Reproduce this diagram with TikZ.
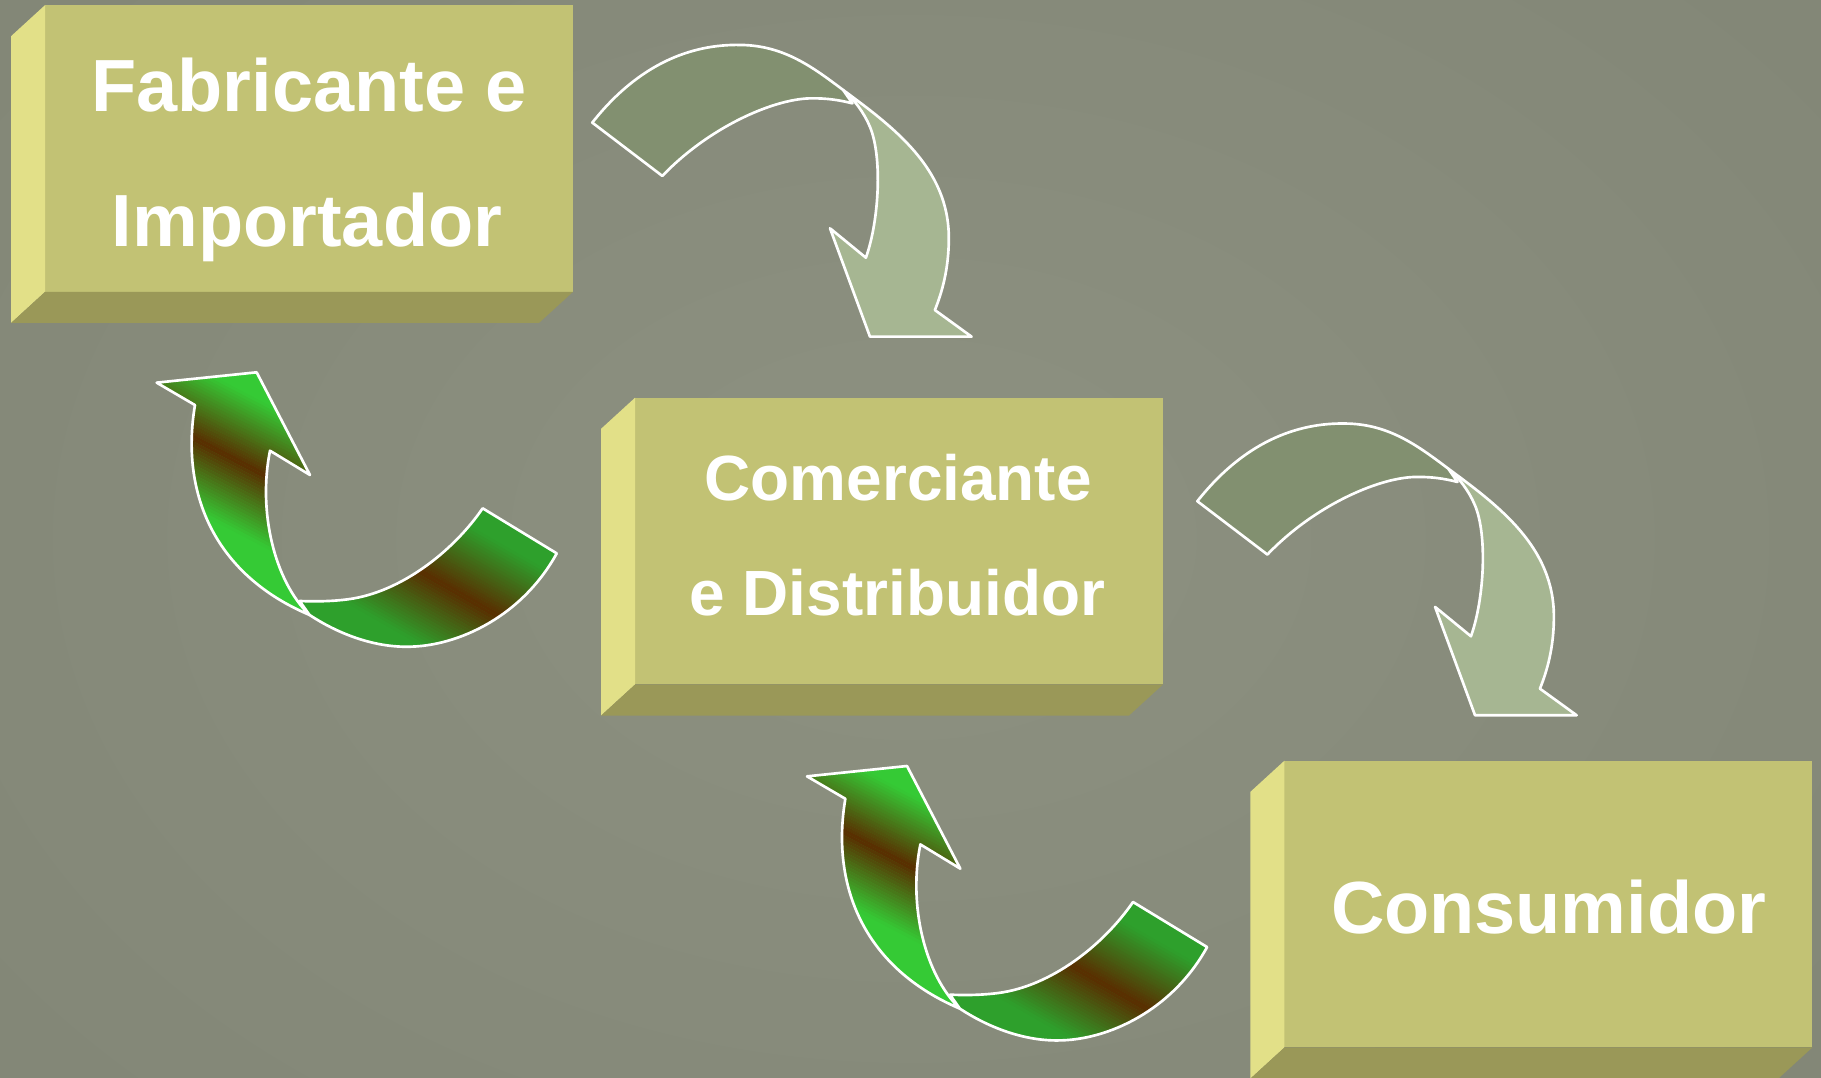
\documentclass[tikz,border=0pt]{standalone}
\usepackage{fontspec}
\setmainfont{Liberation Sans}
\usetikzlibrary{calc}
\definecolor{bg}{HTML}{8A8E7E}
\definecolor{bgIn}{HTML}{8D9181}
\definecolor{bgOut}{HTML}{828676}
\definecolor{face}{HTML}{C2C274}
\definecolor{bevL}{HTML}{E2E088}
\definecolor{bevB}{HTML}{9A9858}
\definecolor{grDark}{HTML}{829070}
\definecolor{grLight}{HTML}{A6B692}
\definecolor{lime}{HTML}{35CA35}
\definecolor{dgreen}{HTML}{2EA02C}
\definecolor{brn}{HTML}{5A2D00}

\newcommand\GAdark{(510,105.6) .. controls (550,55) and (595,38) .. (637.2,38.7) .. controls (675,39) and (700,58) .. (726,77.5) -- (734,89) .. controls (722,86) and (712,84.5) .. (697.4,84.7) .. controls (665,85.5) and (610,110) .. (570.3,151.5) -- cycle}
\newcommand\GAlight{(726,77.5) .. controls (770,110) and (817,145) .. (817,205) .. controls (817,232) and (811,252) .. (805,267) -- (836.6,289.9) -- (749.1,289.9) -- (714.7,196.6) -- (745.6,221.9) .. controls (757,190) and (760,135) .. (749,109) .. controls (744,97) and (735,85) .. (726,77.5) -- cycle}
\newcommand\GRup{(167.9,348.8) -- (134.9,329.5) -- (221,320.6) -- (266.9,409) -- (232.5,388.1) .. controls (222,440) and (236,500) .. (266.5,529.5) .. controls (185,495) and (155,425) .. (167.9,348.8) -- cycle}
\newcommand\GRlow{(266.5,529.5) .. controls (290,545) and (320,557) .. (350.2,556.9) .. controls (395,557) and (450,530) .. (479.4,476.5) -- (415.6,437.7) .. controls (390,475) and (345,510) .. (300,516) .. controls (285,518) and (270,518) .. (258,517.5) -- cycle}

\newcommand\gradstrips[3]{%
  \begin{scope}[shift={#1}, rotate=#2]
    \foreach \s in {-55,-52.5,...,52.5}{
      \pgfmathsetmacro\p{100*(1-abs(\s+1.25)/55)}
      \fill[brn!\p!#3] (-260,\s) rectangle (260,\s+2.7);
    }
  \end{scope}}

\newcommand\bevels[1]{%
  \fill[bevL] (#1.north west) -- (#1.south west) -- ($(#1.south west)+(-29.3,26.8)$) -- ($(#1.north west)+(-29.3,26.8)$) -- cycle;
  \fill[bevB] (#1.south west) -- (#1.south east) -- ($(#1.south east)+(-29.3,26.8)$) -- ($(#1.south west)+(-29.3,26.8)$) -- cycle;}

\newcommand\grayarrow{%
  \filldraw[outl, fill=grLight] \GAlight;
  \filldraw[outl, fill=grDark] \GAdark;}

\newcommand\greenarrow{%
  \begin{scope}
    \clip \GRup;
    \fill[lime] (100,300) rectangle (300,560);
    \gradstrips{(197,393)}{-27.6}{lime}
  \end{scope}
  \draw[outl] \GRup;
  \begin{scope}
    \clip \GRlow;
    \fill[dgreen] (240,420) rectangle (500,570);
    \gradstrips{(397,512)}{-29.8}{dgreen}
  \end{scope}
  \draw[outl] \GRlow;}

\begin{document}
\begin{tikzpicture}[x=0.01cm, y=-0.01cm,
  outl/.style={draw=white, line width=0.65pt, line join=round},
  facebox/.style={fill=face, inner sep=0pt, outer sep=0pt, minimum width=4.543cm, minimum height=2.468cm, anchor=north west},
  lbl/.style={text=white, font=\bfseries\fontsize{18.1}{20}\selectfont, anchor=base, inner sep=0pt},
  lblsmall/.style={lbl, font=\bfseries\fontsize{15.65}{18}\selectfont}]
\useasboundingbox (0,0) rectangle (1568,927.4);
\fill[bg] (0,0) rectangle (1568,927.4);
\shade[inner color=bgIn, outer color=bgOut] (-300,-300) rectangle (1868,1227.4);

% boxes
\node[facebox] (fab) at (38.9,4.3) {};
\node[facebox] (com) at (546.9,342.4) {};
\node[facebox] (con) at (1106,655) {};
\bevels{fab}
\bevels{com}
\bevels{con}

% texts
\node[lbl] (fab1) at (266.1,96.1) {Fabricante e};
\node[lbl] (fab2) at (264.4,212.4) {Importador};
\node[lblsmall] (com1) at (773.4,430.6) {Comerciante};
\node[lblsmall] (com2) at (772.6,529.6) {e Distribuidor};
\node[lbl] (con1) at (1333.5,803.7) {Consumidor};

% gray curved arrows
\grayarrow
\begin{scope}[shift={(521,326)}]
  \grayarrow
\end{scope}

% green curved arrows
\greenarrow
\begin{scope}[shift={(560,339)}]
  \greenarrow
\end{scope}
\end{tikzpicture}
\end{document}
